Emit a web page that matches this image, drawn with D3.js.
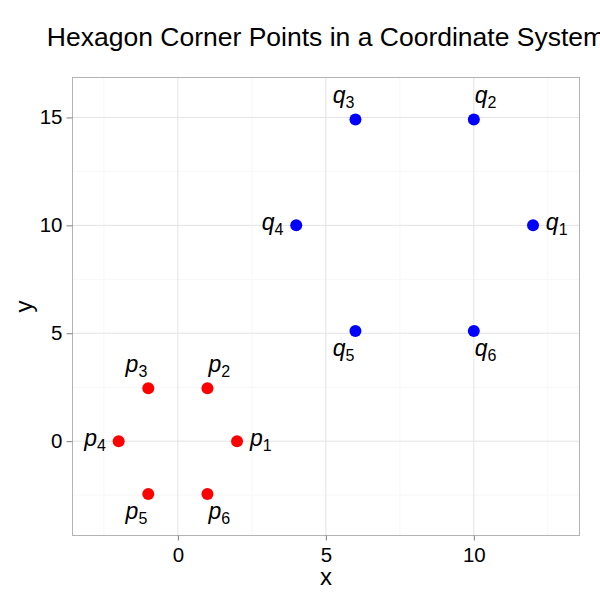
<!DOCTYPE html>
<html>
<head>
<meta charset="utf-8">
<script src="https://cdn.jsdelivr.net/npm/d3@7"></script>
<style>
  body { margin: 0; background: #fff; }
  svg { display: block; font-family: "Liberation Sans", Arial, Helvetica, sans-serif; }
</style>
</head>
<body>
<svg id="chart" width="600" height="600"></svg>
<script>
// ---- data ----
const pNames = ["1", "2", "3", "4", "5", "6"];
const pX = [2, 1, -1, -2, -1, 1];
const pY = [0, 2.45, 2.45, 0, -2.45, -2.45];
const qNames = ["1", "2", "3", "4", "5", "6"];
const qX = [12, 10, 6, 4, 6, 10];
const qY = [10, 14.9, 14.9, 10, 5.1, 5.1];
// label nudges in data units
const labelDx = [0.8, 0.4, -0.4, -0.8, -0.4, 0.4];
const labelDy = [0, 1.0, 1.0, 0, -0.9, -0.9];
const xTicks = [0, 5, 10];
const yTicks = [0, 5, 10, 15];
const xMinor = [-2.5, 2.5, 7.5, 12.5];
const yMinor = [-2.5, 2.5, 7.5, 12.5];
const xDomain = [-3.56, 13.57];
const yDomain = [-4.37, 16.85];
const titleText = "Hexagon Corner Points in a Coordinate System";

// ---- layout ----
const svg = d3.select("#chart");
const pLeft = 72.5, pRight = 579.5, pTop = 77.5, pBottom = 535.5;
const x = d3.scaleLinear().domain(xDomain).range([pLeft, pRight]);
const y = d3.scaleLinear().domain(yDomain).range([pBottom, pTop]);

// panel background
svg.append("rect").attr("x", pLeft).attr("y", pTop)
  .attr("width", pRight - pLeft).attr("height", pBottom - pTop).attr("fill", "#fff");

// minor grid
svg.append("g").selectAll("line").data(xMinor).join("line")
  .attr("x1", d => x(d)).attr("x2", d => x(d)).attr("y1", pTop).attr("y2", pBottom)
  .attr("stroke", "#f7f7f7").attr("stroke-width", 1);
svg.append("g").selectAll("line").data(yMinor).join("line")
  .attr("y1", d => y(d)).attr("y2", d => y(d)).attr("x1", pLeft).attr("x2", pRight)
  .attr("stroke", "#f7f7f7").attr("stroke-width", 1);
// major grid
svg.append("g").selectAll("line").data(xTicks).join("line")
  .attr("x1", d => x(d)).attr("x2", d => x(d)).attr("y1", pTop).attr("y2", pBottom)
  .attr("stroke", "#e3e3e3").attr("stroke-width", 1);
svg.append("g").selectAll("line").data(yTicks).join("line")
  .attr("y1", d => y(d)).attr("y2", d => y(d)).attr("x1", pLeft).attr("x2", pRight)
  .attr("stroke", "#e3e3e3").attr("stroke-width", 1);

// panel border
svg.append("rect").attr("x", pLeft).attr("y", pTop)
  .attr("width", pRight - pLeft).attr("height", pBottom - pTop)
  .attr("fill", "none").attr("stroke", "#b3b3b3").attr("stroke-width", 1);

// axes
const xAxis = svg.append("g").attr("transform", `translate(0,${pBottom})`)
  .call(d3.axisBottom(x).tickValues(xTicks).tickSize(5).tickPadding(7).tickFormat(d3.format("d")));
const yAxis = svg.append("g").attr("transform", `translate(${pLeft},0)`)
  .call(d3.axisLeft(y).tickValues(yTicks).tickSize(6).tickPadding(4).tickFormat(d3.format("d")));
[xAxis, yAxis].forEach(g => {
  g.select(".domain").remove();
  g.selectAll(".tick line").attr("stroke", "#7f7f7f");
  g.selectAll(".tick text").attr("fill", "#000").style("font-size", "20.5px")
    .style("font-family", "'Liberation Sans', Arial, sans-serif");
});

// points
function drawSet(xs, ys, names, letter, color) {
  const data = xs.map((v, i) => ({ x: v, y: ys[i], n: names[i], i }));
  svg.append("g").selectAll("circle").data(data).join("circle")
    .attr("cx", d => x(d.x)).attr("cy", d => y(d.y)).attr("r", 6).attr("fill", color);
  const t = svg.append("g").selectAll("text").data(data).join("text")
    .attr("x", d => x(d.x + labelDx[d.i])).attr("y", d => y(d.y + labelDy[d.i]))
    .attr("dy", "0.22em").attr("text-anchor", "middle")
    .style("font-size", "23px").attr("fill", "#000");
  t.append("tspan").style("font-style", "italic").text(letter);
  t.append("tspan").attr("dy", 5).style("font-size", "16px").text(d => d.n);
}
drawSet(pX, pY, pNames, "p", "#FF0000");
drawSet(qX, qY, qNames, "q", "#0000FF");

// titles
svg.append("text").attr("x", (pLeft + pRight) / 2).attr("y", 46)
  .attr("text-anchor", "middle").style("font-size", "26.5px").text(titleText);
svg.append("text").attr("x", (pLeft + pRight) / 2).attr("y", 585)
  .attr("text-anchor", "middle").style("font-size", "24px").text("x");
svg.append("text").attr("transform", `translate(32,${(pTop + pBottom) / 2}) rotate(-90)`)
  .attr("text-anchor", "middle").style("font-size", "24px").text("y");
</script>
</body>
</html>
